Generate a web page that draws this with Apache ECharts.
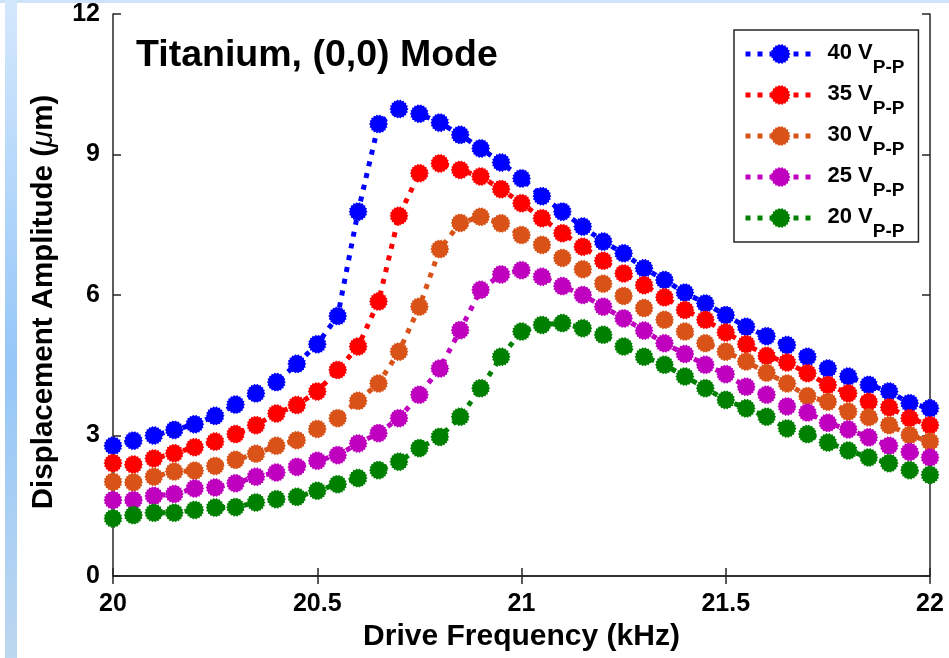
<!DOCTYPE html>
<html>
<head>
<meta charset="utf-8">
<script src="https://cdn.jsdelivr.net/npm/echarts@6/dist/echarts.min.js"></script>
<style>html,body{margin:0;padding:0;background:#fff;}#c{width:949px;height:658px;}</style>
</head>
<body>
<div id="c"></div>
<script>
var freq = [20.00,20.05,20.10,20.15,20.20,20.25,20.30,20.35,20.40,20.45,20.50,20.55,20.60,20.65,20.70,20.75,20.80,20.85,20.90,20.95,21.00,21.05,21.10,21.15,21.20,21.25,21.30,21.35,21.40,21.45,21.50,21.55,21.60,21.65,21.70,21.75,21.80,21.85,21.90,21.95,22.00];
var v40 = [2.78,2.89,3.00,3.12,3.24,3.42,3.66,3.90,4.14,4.53,4.95,5.55,7.78,9.65,9.97,9.87,9.68,9.42,9.13,8.83,8.49,8.11,7.78,7.46,7.14,6.89,6.57,6.32,6.05,5.82,5.57,5.32,5.12,4.93,4.68,4.43,4.26,4.08,3.94,3.69,3.58];
var v35 = [2.41,2.38,2.51,2.62,2.75,2.87,3.03,3.22,3.47,3.65,3.94,4.40,4.90,5.86,7.69,8.60,8.81,8.67,8.53,8.26,7.96,7.64,7.32,7.03,6.73,6.46,6.21,5.95,5.68,5.47,5.20,4.95,4.70,4.56,4.33,4.08,3.90,3.72,3.60,3.37,3.22];
var v30 = [2.01,2.00,2.12,2.23,2.25,2.35,2.48,2.61,2.78,2.90,3.14,3.37,3.74,4.11,4.79,5.75,6.98,7.54,7.67,7.53,7.28,7.07,6.79,6.55,6.24,5.98,5.72,5.47,5.22,4.97,4.79,4.58,4.34,4.11,3.84,3.72,3.51,3.39,3.22,3.01,2.87];
var v25 = [1.62,1.62,1.71,1.75,1.87,1.89,1.98,2.12,2.21,2.33,2.46,2.58,2.83,3.05,3.37,3.87,4.43,5.25,6.11,6.44,6.53,6.39,6.19,6.00,5.75,5.50,5.24,4.97,4.74,4.51,4.31,4.04,3.87,3.62,3.49,3.27,3.13,2.96,2.78,2.65,2.53];
var v20 = [1.23,1.30,1.35,1.35,1.41,1.46,1.47,1.57,1.64,1.69,1.82,1.96,2.09,2.26,2.44,2.73,2.97,3.40,4.01,4.68,5.22,5.36,5.40,5.29,5.15,4.90,4.68,4.51,4.26,4.01,3.76,3.58,3.40,3.15,3.03,2.85,2.68,2.53,2.41,2.26,2.16];
var seriesNames = ['40 V','35 V','30 V','25 V','20 V'];
var seriesValues = [v40, v35, v30, v25, v20];
var seriesColors = ['#0000ff','#ff0000','#d95319','#bf00bf','#008000'];
var xTicks = [20, 20.5, 21, 21.5, 22];
var yTicks = [0, 3, 6, 9, 12];

function starPath(n, rOut, rIn) {
  var d = '';
  for (var i = 0; i < 2 * n; i++) {
    var r = (i % 2) ? rIn : rOut;
    var a = Math.PI * i / n;
    d += (i ? 'L' : 'M') + (r * Math.cos(a)).toFixed(4) + ' ' + (r * Math.sin(a)).toFixed(4) + ' ';
  }
  return 'path://' + d + 'Z';
}
var STAR = starPath(18, 1, 0.86);
var FONT = '"Liberation Sans", Arial, Helvetica, sans-serif';
var AX = '#262626';
var LINE = { width: 5, type: [5, 7], cap: 'butt' };

function pairs(vals) { return freq.map(function (f, i) { return [f, vals[i]]; }); }

var series = seriesNames.map(function (n, k) {
  return {
    name: n, type: 'line', data: pairs(seriesValues[k]),
    symbol: STAR, symbolSize: 19, showSymbol: true,
    lineStyle: Object.assign({ color: seriesColors[k] }, LINE),
    itemStyle: { color: seriesColors[k], borderWidth: 0 },
    emphasis: { disabled: true }, animation: false
  };
});

var chart = echarts.init(document.getElementById('c'), null, { renderer: 'canvas' });
var tickLabel = { color: '#000', fontFamily: FONT, fontSize: 25, fontWeight: 'bold' };
var tickStyle = { show: true, inside: false, length: -8, lineStyle: { color: AX, width: 1.5 } };
chart.setOption({
  backgroundColor: '#fff',
  animation: false,
  graphic: [
    { type: 'rect', shape: { x: 0, y: 0, width: 949, height: 3 }, style: { fill: '#cfe3f8' }, z: -10 },
    { type: 'rect', shape: { x: 5, y: 0, width: 12, height: 658 }, z: -10,
      style: { fill: new echarts.graphic.LinearGradient(0, 0, 0, 1, [
        { offset: 0, color: '#d4e8fc' }, { offset: 0.55, color: '#96c7f8' }, { offset: 1, color: '#bcd7ef' }]) } }
  ],
  title: {
    text: 'Titanium, (0,0) Mode', left: 131, top: 32,
    textStyle: { fontFamily: FONT, fontSize: 37.5, fontWeight: 'bold', color: '#000' }
  },
  legend: {
    orient: 'vertical', left: 734, top: 30,
    padding: [12, 14, 1, 9], itemGap: 6, itemWidth: 70, itemHeight: 25,
    backgroundColor: '#fff', borderColor: AX, borderWidth: 1.5,
    data: seriesNames,
    lineStyle: LINE,
    formatter: function (name) { return '{a|' + name + '}{sub|P-P}'; },
    textStyle: {
      padding: [0, 0, 0, 7],
      rich: {
        a: { fontFamily: FONT, fontSize: 22, fontWeight: 'bold', color: '#000', lineHeight: 24, verticalAlign: 'top' },
        sub: { fontFamily: FONT, fontSize: 19, fontWeight: 'bold', color: '#000', lineHeight: 17, padding: [16, 0, 0, 0], verticalAlign: 'top' }
      }
    }
  },
  grid: { left: 113, right: 19, top: 14, bottom: 82, containLabel: false },
  xAxis: [
    { type: 'value', min: 20, max: 22, interval: 0.5, position: 'bottom',
      name: 'Drive Frequency (kHz)', nameLocation: 'middle', nameGap: 46,
      nameTextStyle: { color: '#000', fontFamily: FONT, fontSize: 30, fontWeight: 'bold' },
      axisLine: { show: true, lineStyle: { color: AX, width: 1.5 } },
      axisTick: tickStyle,
      axisLabel: Object.assign({ margin: 16, formatter: function (v) { return xTicks.indexOf(v) >= 0 ? String(v) : ''; } }, tickLabel),
      splitLine: { show: false } },
    { type: 'value', min: 20, max: 22, interval: 0.5, position: 'top',
      axisLine: { show: true, lineStyle: { color: AX, width: 1.5 } },
      axisTick: tickStyle,
      axisLabel: { show: false }, splitLine: { show: false } }
  ],
  yAxis: [
    { type: 'value', min: 0, max: 12, interval: 3, position: 'left',
      name: 'Displacement Amplitude ({mu|μ}m)', nameLocation: 'middle', nameGap: 54, nameRotate: 90,
      nameTextStyle: { color: '#000', fontFamily: FONT, fontSize: 29.5, fontWeight: 'bold', padding: [0, 14, 0, 0],
        rich: { mu: { fontFamily: FONT, fontSize: 29.5, fontStyle: 'italic', fontWeight: 'normal', color: '#000' } } },
      axisLine: { show: true, lineStyle: { color: AX, width: 1.5 } },
      axisTick: tickStyle,
      axisLabel: Object.assign({ margin: 13, formatter: function (v) { return yTicks.indexOf(v) >= 0 ? String(v) : ''; } }, tickLabel),
      splitLine: { show: false } },
    { type: 'value', min: 0, max: 12, interval: 3, position: 'right',
      axisLine: { show: true, lineStyle: { color: AX, width: 1.5 } },
      axisTick: tickStyle,
      axisLabel: { show: false }, splitLine: { show: false } }
  ],
  series: series
});
</script>
</body>
</html>
